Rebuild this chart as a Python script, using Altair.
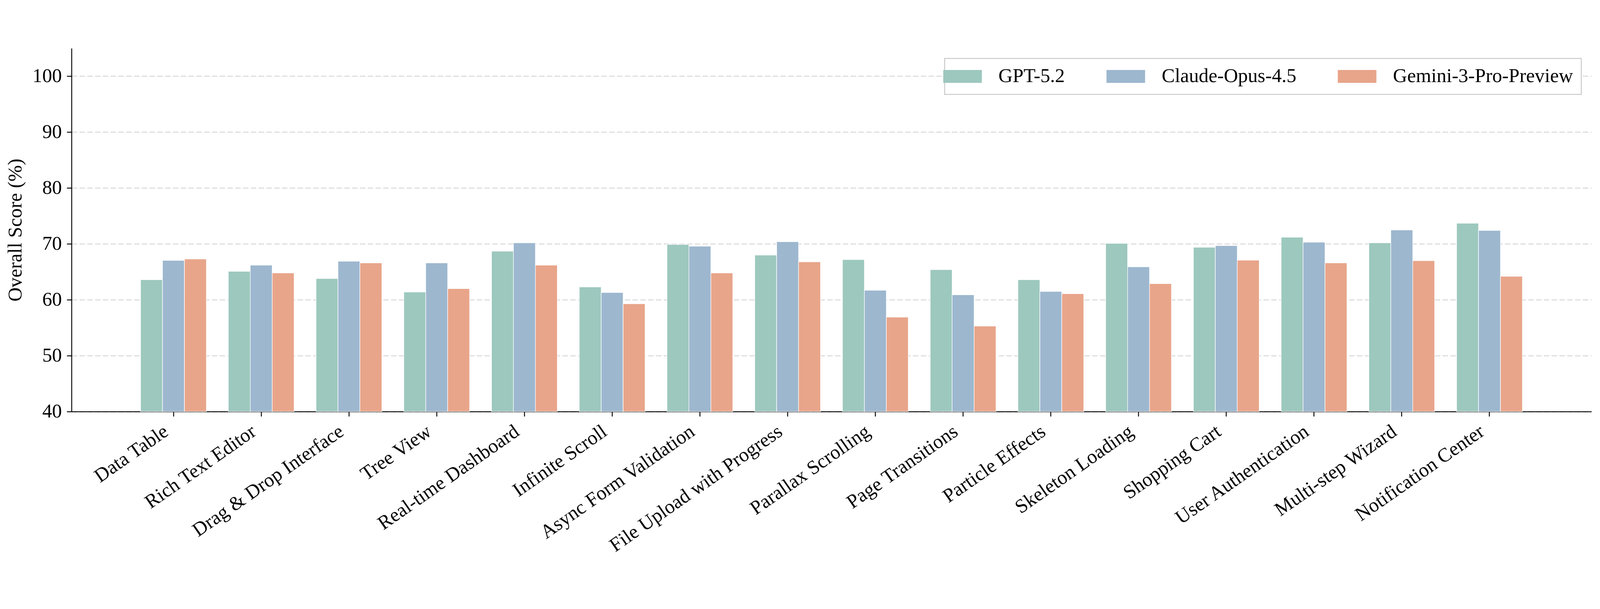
import altair as alt
import pandas as pd

categories = [
    "Data Table", "Rich Text Editor", "Drag & Drop Interface", "Tree View",
    "Real-time Dashboard", "Infinite Scroll", "Async Form Validation",
    "File Upload with Progress", "Parallax Scrolling", "Page Transitions",
    "Particle Effects", "Skeleton Loading", "Shopping Cart",
    "User Authentication", "Multi-step Wizard", "Notification Center",
]
models = ["GPT-5.2", "Claude-Opus-4.5", "Gemini-3-Pro-Preview"]
colors = ["#9dc8be", "#9db7cf", "#e8a58a"]

gpt = [63.6, 65.1, 63.8, 61.4, 68.7, 62.3, 69.9, 68.0, 67.2, 65.4, 63.6, 70.1, 69.4, 71.2, 70.2, 73.7]
claude = [67.05, 66.2, 66.9, 66.6, 70.2, 61.3, 69.6, 70.4, 61.7, 60.9, 61.5, 65.9, 69.7, 70.3, 72.5, 72.4]
gemini = [67.3, 64.8, 66.6, 62.0, 66.2, 59.3, 64.8, 66.8, 56.9, 55.3, 61.1, 62.9, 67.1, 66.6, 67.0, 64.2]

rows = []
for series, name in zip([gpt, claude, gemini], models):
    for cat, v in zip(categories, series):
        rows.append({"Task": cat, "Model": name, "Score": v})
df = pd.DataFrame(rows)

FONT = "Liberation Serif"
FS = 58

bars = alt.Chart(df).mark_bar(stroke="white", strokeWidth=1.5).encode(
    x=alt.X(
        "Task:N",
        sort=categories,
        scale=alt.Scale(paddingInner=0.25, paddingOuter=0.787),
        axis=alt.Axis(
            title=None,
            labelAngle=-35,
            labelAlign="right",
            labelBaseline="top",
            labelPadding=15,
            labelOffset=-38,
            labelLimit=2000,
            grid=False,
        ),
    ),
    xOffset=alt.XOffset("Model:N", sort=models, scale=alt.Scale(paddingInner=0, paddingOuter=0)),
    y=alt.Y(
        "Score:Q",
        scale=alt.Scale(domain=[40, 105], clamp=True, nice=False, zero=False),
        axis=alt.Axis(
            title="Overall Score (%)",
            values=[40, 50, 60, 70, 80, 90, 100],
            grid=True,
            gridDash=[16, 7],
            gridColor="#e2e2e2",
            gridWidth=4,
            labelPadding=15,
            titlePadding=20,
        ),
    ),
    color=alt.Color(
        "Model:N",
        sort=models,
        scale=alt.Scale(domain=models, range=colors),
        legend=alt.Legend(
            title=None,
            orient="top-right",
            offset=30,
            direction="horizontal",
            columns=3,
            columnPadding=121,
            labelOffset=77,
            symbolType="M-1.966,-0.655H1.966V0.655H-1.966Z",
            symbolSize=3364,
            symbolStrokeWidth=0,
            symbolOpacity=1,
            labelFont=FONT,
            labelFontSize=FS,
            labelColor="black",
            labelLimit=2000,
            padding=24,
            strokeColor="#cccccc",
            fillColor="white",
            cornerRadius=0,
        ),
    ),
).properties(
    width=4706,
    height=1542,
    autosize=alt.AutoSizeParams(type="fit", contains="padding"),
    padding={"left": 8, "top": 15, "right": 16, "bottom": 30},
    background="white",
).configure_view(
    stroke=None
).configure_legend(
    strokeWidth=3,
).configure_axis(
    labelFont=FONT,
    labelFontSize=FS,
    labelColor="black",
    titleFont=FONT,
    titleFontSize=FS,
    titleFontWeight="normal",
    titleColor="black",
    domainColor="black",
    domainWidth=2.7,
    tickColor="black",
    tickWidth=2.7,
    tickSize=14,
)

chart = bars
chart.save("out.html", embed_options={"renderer": "svg", "actions": False})
